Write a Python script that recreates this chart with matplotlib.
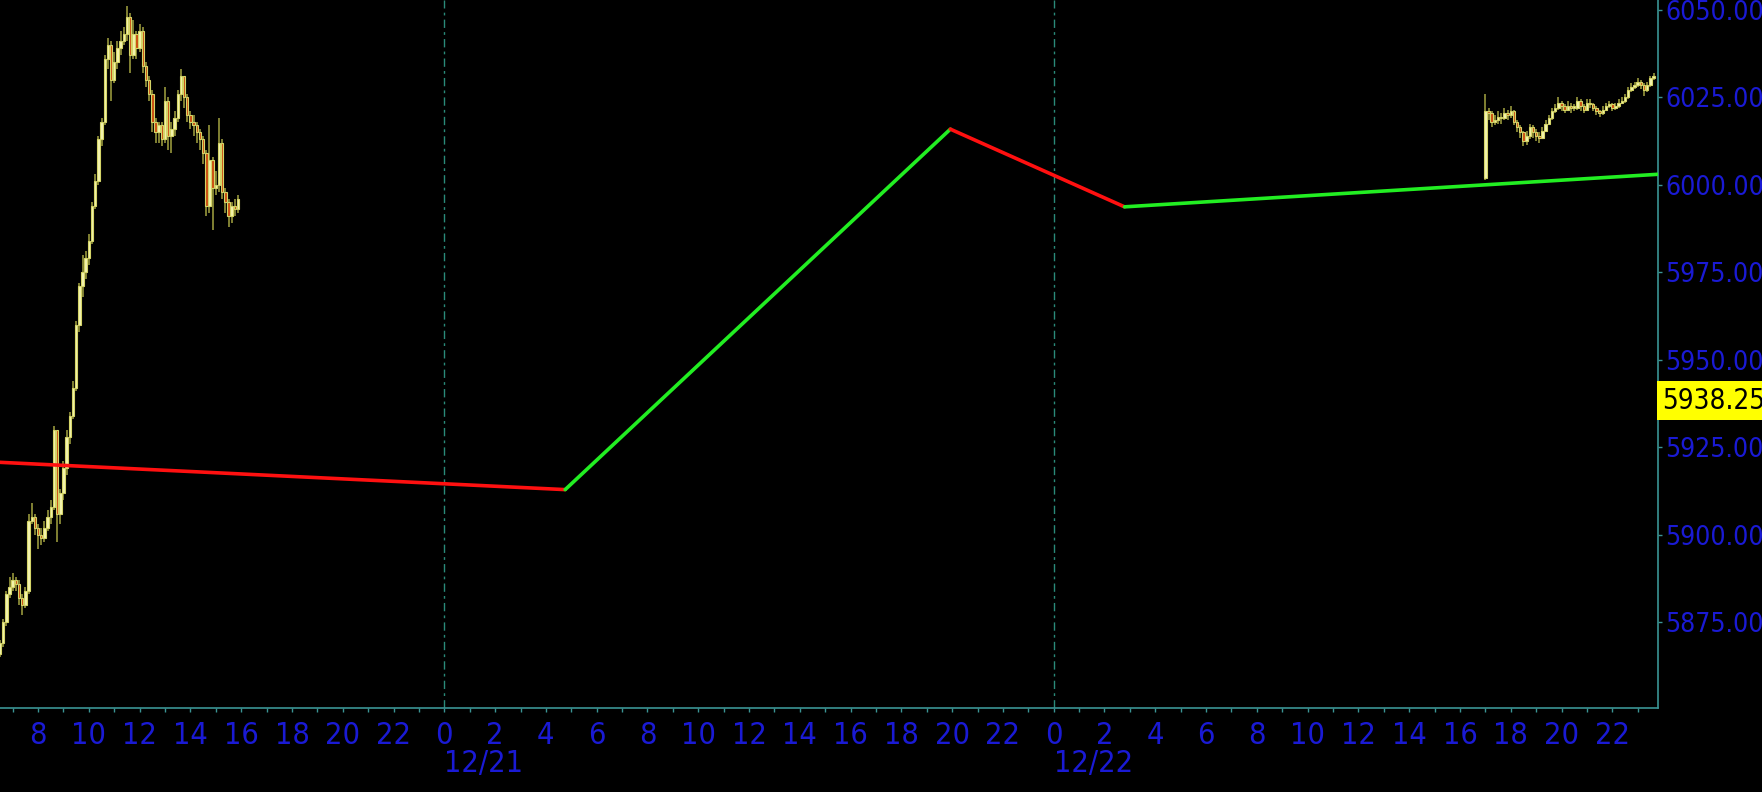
import numpy as np
import matplotlib
matplotlib.use('Agg')
import matplotlib.pyplot as plt
from matplotlib.ticker import MultipleLocator, FuncFormatter

# hours counted from 12/20 00:00, one bar = 7.5 min
bar_hours = 0.125
start_fri = 6.5   # 12/20 06:30
start_sun = 65.0  # 12/22 17:00

# friday session (close, high, low), open = previous close
fri_open0 = 5866
fri_close = [5869, 5875, 5883, 5885, 5887, 5886, 5882, 5880, 5884, 5904,
             5905, 5902, 5900, 5899, 5902, 5905, 5908, 5930, 5906, 5912,
             5919, 5928, 5934, 5942, 5960, 5971, 5975, 5979, 5984, 5994,
             6001, 6013, 6018, 6036, 6040, 6030, 6035, 6039, 6041, 6043,
             6048, 6037, 6043, 6039, 6044, 6034, 6030, 6026, 6018, 6015,
             6017, 6013, 6024, 6014, 6016, 6019, 6026, 6031, 6025, 6020,
             6018, 6017, 6015, 6013, 6009, 5994, 6007, 5999, 6000, 6012,
             5998, 5995, 5991, 5994, 5993, 5996]
fri_high = [5870, 5876, 5884, 5888, 5889, 5888, 5887, 5883, 5885, 5906,
            5909, 5906, 5903, 5902, 5904, 5907, 5910, 5931, 5915, 5913,
            5921, 5930, 5935, 5944, 5961, 5972, 5980, 5981, 5986, 5995,
            6003, 6014, 6019, 6037, 6042, 6041, 6038, 6041, 6044, 6045,
            6051, 6049, 6047, 6044, 6046, 6045, 6035, 6031, 6027, 6019,
            6018, 6018, 6028, 6025, 6018, 6021, 6027, 6033, 6031, 6026,
            6021, 6020, 6018, 6016, 6014, 6010, 6017, 6008, 6004, 6019,
            6013, 5999, 5996, 5995, 5996, 5997]
fri_low = [5865, 5868, 5874, 5882, 5884, 5884, 5880, 5877, 5879, 5883,
           5903, 5900, 5896, 5897, 5898, 5901, 5903, 5907, 5898, 5903,
           5910, 5917, 5926, 5933, 5941, 5958, 5968, 5973, 5977, 5983,
           5993, 6000, 6011, 6017, 6033, 6024, 6029, 6033, 6037, 6040,
           6041, 6032, 6036, 6036, 6038, 6032, 6028, 6024, 6015, 6012,
           6012, 6011, 6012, 6010, 6009, 6014, 6018, 6024, 6022, 6018,
           6016, 6014, 6012, 6010, 6006, 5991, 5992, 5987, 5997, 5998,
           5996, 5992, 5988, 5989, 5991, 5992]

# sunday evening session
sun_open0 = 6002
sun_close = [6021, 6020.5, 6018, 6018.5, 6019.5, 6019, 6020.5, 6020, 6021, 6018,
             6016.5, 6015, 6012.5, 6014, 6016.5, 6015, 6014, 6013.5, 6015.5, 6017.5,
             6019, 6021, 6022, 6023.5, 6022.5, 6021.5, 6022.5, 6022, 6022, 6024,
             6022.5, 6021.5, 6023.5, 6023, 6022, 6021, 6020.5, 6021.5, 6022.5, 6023,
             6022, 6022.5, 6023.5, 6024, 6025, 6027, 6028, 6028.5, 6029.5, 6028.5,
             6027, 6028.5, 6030.5, 6031.2]
sun_high = [6026, 6022, 6021, 6020, 6021, 6020.5, 6022, 6021.5, 6022.5, 6021.5,
            6018.5, 6017, 6015.5, 6015.5, 6017.5, 6017, 6016, 6015, 6016.5, 6018.5,
            6020, 6022, 6023, 6025, 6024, 6023, 6024, 6023.5, 6023, 6025,
            6024.5, 6023, 6024.5, 6024.5, 6023.5, 6022.5, 6021.5, 6022.5, 6023.5, 6024,
            6023.5, 6023.5, 6024.5, 6025, 6026, 6028, 6029, 6029.5, 6030.5, 6030,
            6029, 6029.5, 6031, 6031.8]
sun_low = [6001.5, 6018.5, 6016.5, 6017, 6017.5, 6017.5, 6018.5, 6018.5, 6019, 6017,
           6015, 6013.5, 6011, 6011.5, 6013, 6013.5, 6012.5, 6012, 6013, 6015,
           6017, 6018.5, 6020.5, 6021.5, 6021, 6020.5, 6021, 6020.5, 6021, 6021.5,
           6021, 6020.5, 6021, 6022, 6021, 6020, 6019.5, 6020, 6021, 6022,
           6021, 6021.5, 6022, 6023, 6023.5, 6024.5, 6026.5, 6027.5, 6028, 6027.5,
           6025.5, 6026.5, 6028, 6030]

# swing line pivots
zz_x = [6.5, 28.76, 43.93, 50.79, 71.8]
zz_y = [5920.7, 5912.9, 6015.9, 5993.7, 6003.0]

last_price = 5938.25
y_ticks = [5875, 5900, 5925, 5950, 5975, 6000, 6025, 6050]
day_marks = [24, 48]
day_labels = ['12/21', '12/22']

bg = 'black'
axis_col = '#3a9494'
txt_blue = '#1a1ad4'
up_fill = '#f4f4b0'
dn_fill = '#cc4c10'
edge_col = '#d4d468'
wick_col = '#a4a440'
narrow = ['Liberation Sans Narrow', 'DejaVu Sans']

fig = plt.figure(figsize=(17.62, 7.92), dpi=100, facecolor=bg)
ax = fig.add_axes([0, 1 - 708 / 792, 1658 / 1762, 708 / 792])
ax.set_facecolor(bg)


def draw_candles(t0, open0, close, high, low):
    close = np.array(close, dtype=float)
    opens = np.concatenate([[open0], close[:-1]])
    t = t0 + bar_hours * np.arange(len(close))
    ax.vlines(t, low, high, color=wick_col, lw=1.1, zorder=2)
    up = close >= opens
    bottom = np.minimum(opens, close)
    height = np.maximum(np.abs(close - opens), 0.4)
    ax.bar(t[up], height[up], bottom=bottom[up], width=0.095,
           color=up_fill, edgecolor=edge_col, linewidth=0.8, zorder=3)
    ax.bar(t[~up], height[~up], bottom=bottom[~up], width=0.095,
           color=dn_fill, edgecolor=edge_col, linewidth=0.8, zorder=3)


draw_candles(start_fri, fri_open0, fri_close, fri_high, fri_low)
draw_candles(start_sun, sun_open0, sun_close, sun_high, sun_low)

# swing line: green going up, red going down
for i in range(len(zz_x) - 1):
    col = '#22ee22' if zz_y[i + 1] > zz_y[i] else '#ff1010'
    ax.plot(zz_x[i:i + 2], zz_y[i:i + 2], color=col, lw=2.6,
            solid_capstyle='round', zorder=4)

for d in day_marks:
    ax.axvline(d, color='#2a8a7a', lw=1, ls=(0, (6, 3, 2, 3)), zorder=1)

ax.set_xlim(6.5, 71.8)
ax.set_ylim(5850.5, 6052.8)

# axes frame
for s in ['top', 'left']:
    ax.spines[s].set_visible(False)
for s in ['right', 'bottom']:
    ax.spines[s].set_color(axis_col)
    ax.spines[s].set_linewidth(1.2)

ax.yaxis.tick_right()
ax.set_yticks(y_ticks)
ax.yaxis.set_major_formatter(FuncFormatter(lambda v, p: '%.3f' % v))
ax.tick_params(axis='y', colors=axis_col, labelcolor=txt_blue, length=3,
               width=1, pad=2, labelsize=19)
for lab in ax.get_yticklabels():
    lab.set_fontfamily(['DejaVu Sans'])
    lab.set_fontstretch('condensed')

ax.xaxis.set_major_locator(MultipleLocator(2))
ax.xaxis.set_minor_locator(MultipleLocator(1))
ax.xaxis.set_major_formatter(FuncFormatter(lambda v, p: str(int(round(v)) % 24)))
ax.tick_params(axis='x', which='both', colors=axis_col, labelcolor=txt_blue,
               length=3, width=1, direction='out')
ax.tick_params(axis='x', which='major', pad=6, labelsize=22)
for lab in ax.get_xticklabels():
    lab.set_fontfamily(narrow)
    lab.set_fontstretch('condensed')

for d, lbl in zip(day_marks, day_labels):
    ax.text(d, -0.058, lbl, transform=ax.get_xaxis_transform(), ha='left',
            va='top', color=txt_blue, fontsize=22, family=narrow,
            fontstretch='condensed')

# current price tag on the price scale
ax.annotate('5938.250', xy=(1.0, last_price), xycoords=ax.get_yaxis_transform(),
            xytext=(3, 0), textcoords='offset points', ha='left', va='center',
            color='black', fontsize=20, fontstretch='condensed',
            annotation_clip=False,
            bbox=dict(boxstyle='square,pad=0.2', fc='#ffff00', ec='none'))

fig.savefig('out.png', dpi=100, facecolor=bg)
